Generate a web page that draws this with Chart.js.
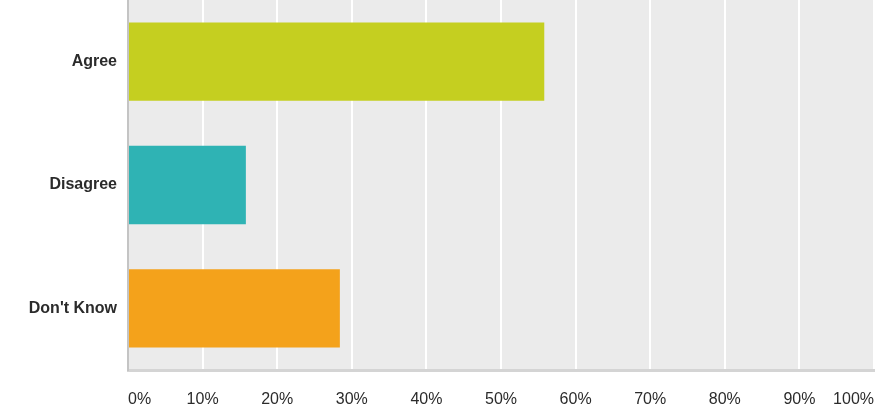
<!DOCTYPE html>
<html>
<head>
<meta charset="utf-8">
<script src="https://cdn.jsdelivr.net/npm/chart.js@4/dist/chart.umd.min.js"></script>
<style>
  html, body { margin: 0; padding: 0; background: #fff; }
  #wrap { width: 881px; height: 414px; }
</style>
</head>
<body>
<div id="wrap"><canvas id="surveyChart"></canvas></div>
<script>
const answers = ['Agree', 'Disagree', "Don't Know"];
const percents = [55.8, 15.8, 28.4];
const barColors = ['#c5cf20', '#2fb3b4', '#f4a21b'];

// grey plot background behind the bars
const plotBg = {
  id: 'plotBg',
  beforeDraw(chart) {
    const {ctx, chartArea: a} = chart;
    ctx.save();
    ctx.fillStyle = '#ebebeb';
    ctx.fillRect(a.left, a.top, a.right - a.left, a.bottom - a.top);
    ctx.restore();
  }
};

let ctx = document.getElementById('surveyChart');
window.surveyChart = new Chart(ctx, {
  type: 'bar',
  data: {
    labels: answers,
    datasets: [{
      data: percents,
      backgroundColor: barColors,
      borderWidth: 0,
      barPercentage: 0.635,
      categoryPercentage: 1
    }]
  },
  options: {
    indexAxis: 'y',
    responsive: true,
    maintainAspectRatio: false,
    animation: false,
    layout: { padding: { top: -6, right: 7, left: 0, bottom: 0 } },
    plugins: {
      legend: { display: false },
      tooltip: { enabled: false }
    },
    scales: {
      x: {
        min: 0,
        max: 100,
        afterFit(scale) {
          scale.height = 44;
          scale.paddingLeft = 0;
          scale.paddingRight = 0;
        },
        grid: { color: '#ffffff', lineWidth: 2, drawTicks: false },
        border: { color: '#d4d4d4', width: 3 },
        ticks: {
          stepSize: 10,
          align: 'inner',
          padding: 20,
          color: '#2b2b2b',
          font: { family: "'Liberation Sans', Arial, sans-serif", size: 16 },
          callback: v => v + '%'
        }
      },
      y: {
        afterFit(scale) {
          scale.width = 128;
          scale.paddingTop = 0;
          scale.paddingBottom = 0;
        },
        grid: { display: false, drawTicks: false },
        border: { color: '#c4c4c4', width: 2 },
        ticks: {
          padding: 11,
          color: '#2b2b2b',
          font: { family: "'Liberation Sans', Arial, sans-serif", size: 16, weight: 'bold' }
        }
      }
    }
  },
  plugins: [plotBg]
});
</script>
</body>
</html>
